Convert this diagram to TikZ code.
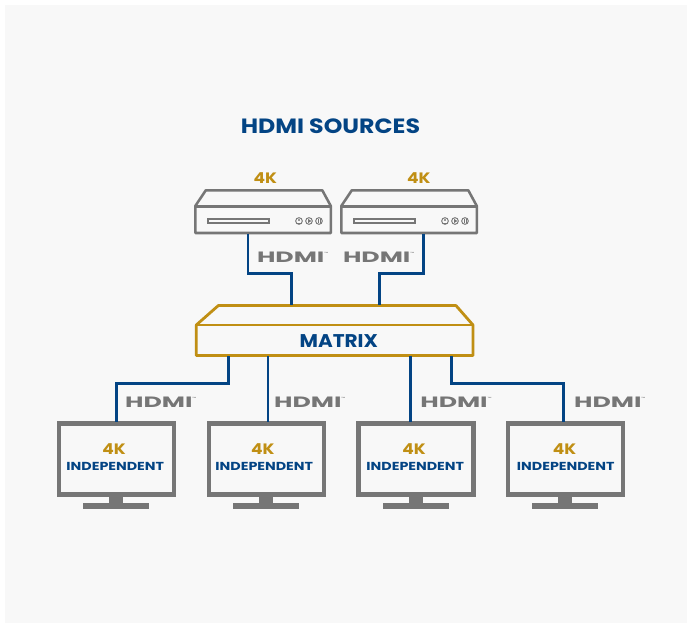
\documentclass[tikz,border=0pt]{standalone}
\usepackage{fontspec}
\setmainfont{Poppins}
\definecolor{panel}{HTML}{F8F8F8}
\definecolor{gry}{HTML}{767676}
\definecolor{gld}{HTML}{C08F14}
\definecolor{blu}{HTML}{034484}
\tikzset{
  x=0.75pt,y=-0.75pt,
  link/.style={draw=blu,line width=2.1pt,line join=miter},
  device/.style={draw=gry,line width=1.9pt,line join=round},
  screen/.style={draw=gry,line width=3.4pt,minimum width=86.25pt,minimum height=53.4pt,inner sep=0pt,outer sep=0pt},
  gold/.style={text=gld,font=\bfseries\fontsize{11.3}{13}\selectfont,inner sep=0pt,xscale=1.13},
  ind/.style={text=blu,font=\bfseries\fontsize{8.7}{11}\selectfont,inner sep=0pt,xscale=1.23},
  hdmi/.style={text=gry,font=\bfseries\fontsize{11}{12}\selectfont,inner sep=0pt,xscale=1.72,yscale=1.02},
  ctl/.style={circle,draw=gry,line width=0.7pt,minimum size=5pt,inner sep=0pt,outer sep=0pt},
}
\newcommand{\hdmilogo}[3]{\node[hdmi] (#1) at (#2,#3) {HDMI\rlap{\raisebox{5.5pt}{\fontsize{2.2}{3}\selectfont\mdseries ™}}};}
\newcommand{\player}[2]{%
  \begin{scope}[shift={(#2,0)}]
    \draw[device] (0,206) -- (10.5,190.3) -- (127,190.3) -- (135.5,206) -- (135.5,233) -- (0,233) -- cycle;
    \draw[device] (0,206.5) -- (135.5,206.5);
    \node[draw=gry,line width=1.5pt,minimum width=45.4pt,minimum height=3pt,inner sep=0pt,outer sep=0pt] (#1) at (43,221.2) {};
    \node[ctl] (#1c1) at (103.7,221) {};
    \node[ctl] (#1c2) at (113.7,221) {};
    \node[ctl] (#1c3) at (123.7,221) {};
    \fill[gry] (103.7,220) circle (0.8pt);
    \draw[gry,line width=0.5pt] (101.7,223.2) -- (105.7,223.2);
    \fill[gry] (112.9,219) -- (116,221) -- (112.9,223) -- cycle;
    \fill[gry] (122.4,219) rectangle (123.3,223);
    \fill[gry] (124.2,219) rectangle (125.1,223);
  \end{scope}}
\newcommand{\monitor}[4]{%
  \begin{scope}[shift={(#2,0)}]
    \node[screen] (#1) at (57.5,459) {};
    \fill[gry] (50.3,496) rectangle (64.3,503.5);
    \fill[gry] (24.3,503) rectangle (90.3,509.3);
  \end{scope}
  \node[gold] (#1a) at (#3,449.3) {4K};
  \node[ind] (#1b) at (#4,466.6) {INDEPENDENT};}
\begin{document}
\begin{tikzpicture}
\useasboundingbox (0,0) rectangle (687,623);
\fill[white] (0,0) rectangle (687,623);
\fill[panel] (5,5) rectangle (687,623);
\node[text=blu,font=\bfseries\fontsize{15.5}{18}\selectfont,inner sep=0pt,xscale=1.147] (title) at (330.5,126.6) {HDMI SOURCES};

\player{pa}{195.3}
\player{pb}{341.3}
\node[gold] (ka) at (265.3,177.6) {4K};
\node[gold] (kb) at (418.8,177.6) {4K};

% matrix
\coordinate (ml) at (196.3,325);
\coordinate (mr) at (473,325);
\draw[draw=gld,line width=2.1pt,line join=round] (ml) -- (218.3,305.6) -- (456,305.6) -- (mr) -- (473,355.5) -- (196.3,355.5) -- cycle;
\draw[draw=gld,line width=2.1pt] (ml) -- (mr);
\node[text=blu,font=\bfseries\fontsize{13.8}{16}\selectfont,inner sep=0pt,xscale=1.09] (mx) at (338.8,341.3) {MATRIX};

\monitor{ma}{58.8}{114}{115.3}
\monitor{mb}{208.8}{262.8}{264.3}
\monitor{mc}{358.3}{414}{415.3}
\monitor{md}{507.8}{564.5}{565.8}

% ports
\coordinate (outa) at (248,234);
\coordinate (outb) at (423.4,234);
\coordinate (ina) at (291.8,304.6);
\coordinate (inb) at (379.4,304.6);
\coordinate (o1) at (228.5,356.5);
\coordinate (o2) at (268,356.5);
\coordinate (o3) at (410.5,356.5);
\coordinate (o4) at (451.2,356.5);
\coordinate (m1) at (116.4,422);
\coordinate (m2) at (268,422);
\coordinate (m3) at (410.5,422);
\coordinate (m4) at (563.4,422);

% connectors
\draw[link] (outa) |- (291.8,273.7) -- (ina);
\draw[link] (outb) |- (379.4,273.7) -- (inb);
\draw[link] (o1) |- (116.4,383.6) -- (m1);
\draw[link] (o2) -- (m2);
\draw[link] (o3) -- (m3);
\draw[link] (o4) |- (563.4,383.6) -- (m4);

\hdmilogo{ha}{290.7}{257}
\hdmilogo{hb}{376.7}{257}
\hdmilogo{hc}{158.8}{402}
\hdmilogo{hd}{307.8}{402}
\hdmilogo{he}{454}{402}
\hdmilogo{hf}{607.8}{402}
\end{tikzpicture}
\end{document}
